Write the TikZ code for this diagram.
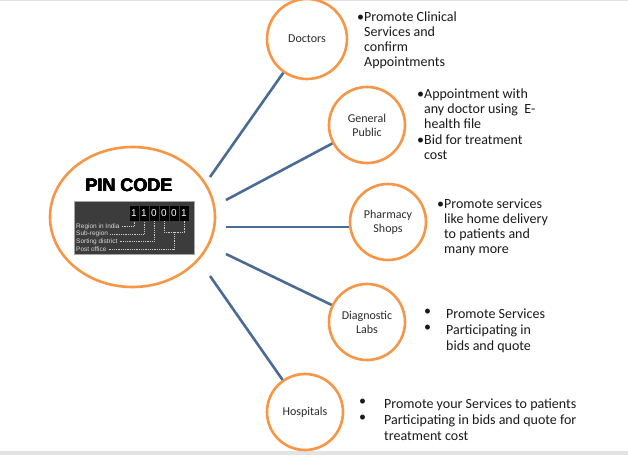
\documentclass[tikz,border=0pt]{standalone}
\usepackage{fontspec}
\usetikzlibrary{shapes.geometric}
\setmainfont{Carlito}
\newfontfamily\arialf{Liberation Sans}
\definecolor{orng}{HTML}{F79646}
\definecolor{lineblue}{HTML}{4A6B96}
\definecolor{txt}{HTML}{1A1A1A}
\definecolor{lbl}{HTML}{2B2B2B}
\definecolor{pinbg}{HTML}{3C3C3C}
\tikzset{
  ring/.style={draw=orng, line width=2.6pt, fill=white, circle, minimum size=#1, inner sep=0pt, text=lbl, font=\fontsize{12}{14}\selectfont, align=center},
  link/.style={draw=lineblue, line width=2.6pt},
  bul/.style={anchor=north west, inner sep=0pt, text=txt, font=\fontsize{14}{15}\selectfont, align=left},
  bulw/.style={bul, font=\fontsize{14}{16.3}\selectfont},
  dig/.style={fill=black, text=white, font=\arialf\fontsize{10}{10}\selectfont, minimum width=9pt, minimum height=15pt, inner sep=0pt},
  plbl/.style={anchor=west, inner sep=0pt, text=white!85!black, font=\arialf\fontsize{6.5}{7}\selectfont},
  dsh/.style={draw=white!80!black, line width=0.5pt, dash pattern=on 1pt off 0.8pt},
  pinf/.style={font=\arialf\bfseries\fontsize{18}{18}\selectfont, text=black, inner sep=0pt}
}
\begin{document}
\begin{tikzpicture}[x=1pt,y=-1pt]
\useasboundingbox (0,0) rectangle (628,455);
\fill[white] (0,0) rectangle (628,455);
\draw[gray!25, line width=1pt] (0,0.5) -- (628,0.5);
\fill[gray!22] (0,451) rectangle (628,455);

% main ellipse
\node[draw=orng, line width=2.6pt, ellipse, minimum width=165pt, minimum height=140pt, inner sep=0pt, fill=white] (pin) at (132.5,217) {};

\node[ring=80pt] (doc) at (307,39) {Doctors};
\node[ring=76pt] (gen) at (367,125) {General\\Public};
\node[ring=76pt] (pha) at (388,222) {Pharmacy\\Shops};
\node[ring=76pt] (dia) at (367,322) {Diagnostic\\Labs};
\node[ring=76pt] (hos) at (305,412) {Hospitals};

\coordinate (s1) at (210,177); \coordinate (s2) at (226,200);
\coordinate (s3) at (226,227); \coordinate (s4) at (226,254);
\coordinate (s5) at (210,276);

\draw[link] (s1) -- (doc);
\draw[link] (s2) -- (gen);
\draw[link] (s3) -- (s3 -| pha.west);
\draw[link] (s4) -- (dia);
\draw[link] (s5) -- (hos);

% PIN CODE (slightly emboldened by overprinting)
\foreach \dx/\dy in {-0.35/0,0.35/0,0/-0.3,0/0.3}{
  \node[pinf] at (129+\dx,185.5+\dy) {PIN CODE};
}
\node[pinf] (pct) at (129,185.5) {PIN CODE};
\fill[pinbg] (74,201) rectangle (194,254);
\draw[gray!70, line width=0.4pt] (74,201) rectangle (194,254);
\foreach \i/\d in {0/1,1/1,2/0,3/0,4/0,5/1}{
  \node[dig] (d\i) at (134+10*\i,213.5) {\d};
}
\node[plbl] (l1) at (76,226.5) {Region in India};
\node[plbl] (l2) at (76,234) {Sub-region};
\node[plbl] (l3) at (76,241.5) {Sorting district};
\node[plbl] (l4) at (76,249) {Post office};
\coordinate (br) at (174,232);
\draw[dsh] (l1.east) ++(2,0) -| (d0.south);
\draw[dsh] (l2.east) ++(2,0) -| (d1.south);
\draw[dsh] (l3.east) ++(2,0) -| (d2.south);
\draw[dsh] (l4.east) ++(2,0) -| (br);
\draw[dsh] (d3.south) |- (br) -| (d5.south);

% bullet texts
\node[bul] (t1) at (357,12) {•Promote Clinical\\\hphantom{•}Services and\\\hphantom{•}confirm\\\hphantom{•}Appointments};
\node[bul] (t2) at (417,89) {•Appointment with\\\hphantom{•}any doctor using\ \ E-\\\hphantom{•}health file\\[1pt]•Bid for treatment\\\hphantom{•}cost};
\node[bul] (t3) at (437,198.5) {•Promote services\\\hphantom{•}like home delivery\\\hphantom{•}to patients and\\\hphantom{•}many more};
\node[bulw] (t4a) at (424,308.5) {•\\•};
\node[bulw] (t4) at (446,308.5) {Promote Services\\Participating in\\bids and quote};
\node[bulw] (t5a) at (359,398.5) {•\\•};
\node[bulw] (t5) at (384,398.5) {Promote your Services to patients\\Participating in bids and quote for\\treatment cost};
\end{tikzpicture}
\end{document}
